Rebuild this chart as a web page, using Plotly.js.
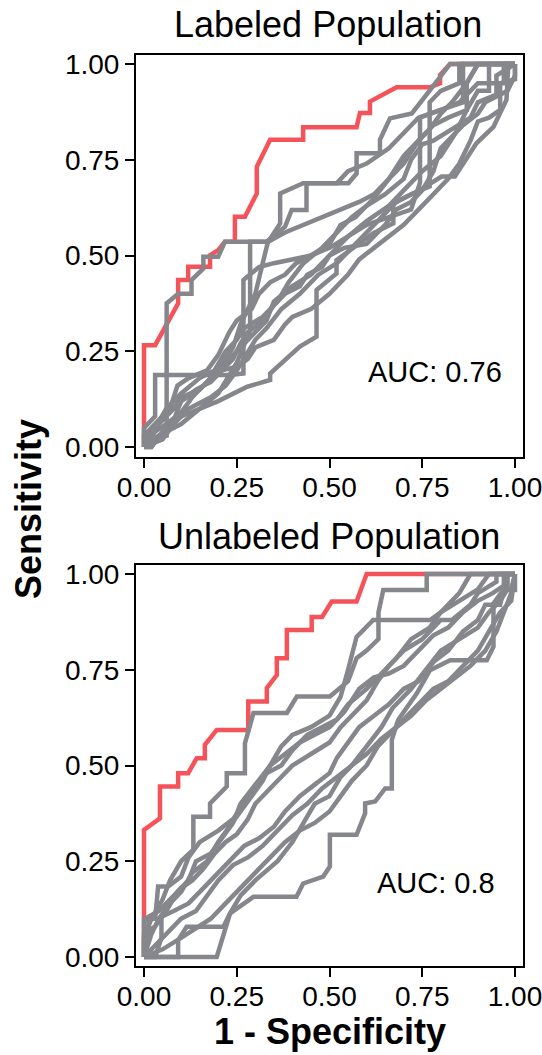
<!DOCTYPE html>
<html>
<head>
<meta charset="utf-8">
<script src="https://cdn.plot.ly/plotly-3.0.1.min.js"></script>
<style>html,body{margin:0;padding:0;background:#fff;}#chart{width:542px;height:1055px;}</style>
</head>
<body>
<div id="chart"></div>
<script>
// ---------- data ----------
const tickVals = [0, 0.25, 0.5, 0.75, 1];
const tickLabels = ['0.00', '0.25', '0.50', '0.75', '1.00'];
const panelTitles = ['Labeled Population', 'Unlabeled Population'];
const aucLabels = ['AUC: 0.76', 'AUC: 0.8'];

// Labeled population: highlighted ROC curve (1 - specificity, sensitivity)
const labeledRedFpr = [0, 0, 0.030, 0.092, 0.092, 0.119, 0.119, 0.178, 0.178, 0.200, 0.218, 0.245, 0.245, 0.272, 0.304, 0.304, 0.340, 0.429, 0.429, 0.573, 0.582, 0.609, 0.609, 0.663, 0.681, 0.771, 0.798, 0.798, 0.825, 1];
const labeledRedTpr = [0, 0.266, 0.266, 0.375, 0.436, 0.436, 0.471, 0.471, 0.501, 0.514, 0.536, 0.536, 0.601, 0.601, 0.662, 0.732, 0.802, 0.802, 0.835, 0.835, 0.872, 0.872, 0.902, 0.928, 0.939, 0.939, 0.950, 0.971, 1, 1];

// Labeled population: other ROC curves, [fpr, tpr] points
const labeledGray1 = [[0,0],[0.04,0.03],[0.061,0.03],[0.061,0.375],[0.092,0.40],[0.128,0.40],[0.128,0.436],[0.16,0.466],[0.16,0.497],[0.2,0.497],[0.218,0.536],[0.335,0.536],[0.367,0.584],[0.367,0.662],[0.429,0.689],[0.551,0.689],[0.573,0.714],[0.573,0.767],[0.636,0.767],[0.636,0.802],[0.663,0.858],[0.722,0.871],[0.771,0.932],[0.825,1],[1,1]];
const labeledGray2 = [[0,0],[0.02,0],[0.05,0.04],[0.1,0.08],[0.2,0.12],[0.277,0.157],[0.34,0.175],[0.34,0.192],[0.42,0.262],[0.465,0.288],[0.465,0.41],[0.519,0.453],[0.519,0.488],[0.618,0.558],[0.672,0.584],[0.672,0.636],[0.744,0.671],[0.802,0.706],[0.838,0.706],[0.874,0.758],[0.896,0.793],[0.942,0.836],[0.977,0.906],[0.982,1],[1,1]];
const labeledGray3 = [[0,0],[0,0.05],[0.03,0.08],[0.03,0.188],[0.232,0.188],[0.268,0.192],[0.268,0.436],[0.31,0.47],[0.35,0.48],[0.4,0.49],[0.45,0.5],[0.5,0.52],[0.55,0.55],[0.60,0.59],[0.66,0.63],[0.70,0.67],[0.75,0.72],[0.80,0.76],[0.84,0.82],[0.87,0.88],[0.90,0.93],[0.93,0.93],[0.93,1],[1,1]];
const labeledGray4 = [[0,0],[0.04,0.03],[0.1,0.06],[0.15,0.1],[0.2,0.14],[0.25,0.22],[0.286,0.305],[0.286,0.536],[0.335,0.536],[0.38,0.56],[0.43,0.58],[0.48,0.6],[0.53,0.62],[0.58,0.64],[0.62,0.66],[0.66,0.7],[0.70,0.74],[0.74,0.80],[0.78,0.84],[0.82,0.86],[0.87,0.88],[0.87,0.95],[0.9,1],[1,1]];
const labeledGray5 = [[0,0],[0.02,0.05],[0.05,0.08],[0.08,0.10],[0.1,0.13],[0.15,0.15],[0.2,0.2],[0.25,0.25],[0.3,0.3],[0.33,0.33],[0.35,0.38],[0.4,0.42],[0.45,0.45],[0.5,0.5],[0.55,0.55],[0.6,0.58],[0.66,0.6],[0.72,0.62],[0.744,0.69],[0.744,0.86],[0.80,0.88],[0.85,0.9],[0.9,0.95],[0.97,0.95],[0.97,1],[1,1]];
const labeledGray6 = [[0,0],[0.05,0.02],[0.08,0.06],[0.12,0.1],[0.18,0.13],[0.22,0.16],[0.25,0.2],[0.3,0.28],[0.33,0.31],[0.37,0.36],[0.42,0.4],[0.47,0.45],[0.52,0.48],[0.56,0.52],[0.6,0.56],[0.64,0.6],[0.68,0.64],[0.72,0.66],[0.77,0.68],[0.77,0.9],[0.8,0.93],[0.85,0.95],[0.85,1],[1,1]];
const labeledGray7 = [[0,0],[0,0.03],[0.03,0.05],[0.06,0.1],[0.1,0.14],[0.15,0.18],[0.19,0.2],[0.22,0.25],[0.25,0.28],[0.27,0.31],[0.32,0.34],[0.36,0.38],[0.39,0.43],[0.43,0.48],[0.48,0.52],[0.52,0.56],[0.56,0.6],[0.6,0.63],[0.65,0.66],[0.7,0.7],[0.72,0.75],[0.75,0.79],[0.78,0.8],[0.83,0.83],[0.88,0.86],[0.9,0.9],[0.95,0.92],[0.95,0.97],[1,1]];
const labeledGray8 = [[0,0],[0.02,0],[0.05,0.04],[0.08,0.07],[0.1,0.12],[0.14,0.15],[0.18,0.17],[0.21,0.2],[0.25,0.21],[0.28,0.23],[0.3,0.26],[0.35,0.28],[0.38,0.32],[0.4,0.34],[0.45,0.36],[0.5,0.4],[0.55,0.45],[0.58,0.49],[0.62,0.52],[0.66,0.55],[0.7,0.58],[0.74,0.62],[0.78,0.66],[0.82,0.7],[0.85,0.74],[0.88,0.8],[0.9,0.85],[0.93,0.86],[0.96,0.88],[0.96,0.95],[1,0.96],[1,1]];
const labeledGray9 = [[0,0],[0.03,0.04],[0.06,0.06],[0.1,0.09],[0.13,0.13],[0.16,0.16],[0.2,0.19],[0.24,0.23],[0.26,0.27],[0.28,0.3],[0.32,0.33],[0.35,0.37],[0.38,0.40],[0.42,0.42],[0.44,0.45],[0.48,0.47],[0.5,0.5],[0.54,0.52],[0.6,0.53],[0.65,0.58],[0.68,0.62],[0.72,0.64],[0.75,0.67],[0.78,0.72],[0.8,0.78],[0.83,0.81],[0.86,0.84],[0.9,0.87],[0.92,0.9],[0.98,0.93],[1,0.97],[1,1]];
const labeledGray10 = [[0,0],[0.01,0.04],[0.04,0.07],[0.07,0.1],[0.09,0.16],[0.12,0.18],[0.17,0.2],[0.2,0.24],[0.23,0.3],[0.25,0.33],[0.29,0.36],[0.31,0.4],[0.34,0.43],[0.38,0.45],[0.41,0.48],[0.45,0.5],[0.5,0.53],[0.53,0.58],[0.57,0.6],[0.62,0.65],[0.66,0.7],[0.7,0.76],[0.73,0.79],[0.77,0.83],[0.8,0.87],[0.83,0.9],[0.87,0.95],[0.9,1],[1,1]];
const labeledGray11 = [[0,0],[0.03,0.05],[0.06,0.08],[0.1,0.12],[0.15,0.15],[0.2,0.2],[0.24,0.26],[0.26,0.32],[0.3,0.4],[0.32,0.48],[0.335,0.54],[0.38,0.575],[0.398,0.619],[0.438,0.619],[0.438,0.689],[0.52,0.689],[0.55,0.72],[0.6,0.74],[0.66,0.78],[0.7,0.82],[0.74,0.86],[0.8,0.88],[0.86,0.9],[0.86,1],[1,1]];

// Unlabeled population: highlighted ROC curve
const unlabeledRedFpr = [0, 0, 0.043, 0.043, 0.092, 0.092, 0.119, 0.142, 0.164, 0.164, 0.196, 0.281, 0.281, 0.331, 0.331, 0.358, 0.358, 0.385, 0.385, 0.452, 0.452, 0.480, 0.506, 0.573, 0.600, 1];
const unlabeledRedTpr = [0, 0.332, 0.362, 0.445, 0.445, 0.480, 0.480, 0.519, 0.519, 0.554, 0.593, 0.593, 0.667, 0.667, 0.702, 0.736, 0.780, 0.780, 0.854, 0.854, 0.888, 0.888, 0.928, 0.928, 1, 1];

// Unlabeled population: other ROC curves
const unlabeledGray1 = [[0,0],[0,0.05],[0.02,0.1],[0.05,0.15],[0.07,0.2],[0.1,0.25],[0.133,0.28],[0.133,0.366],[0.178,0.366],[0.178,0.401],[0.223,0.445],[0.223,0.48],[0.272,0.48],[0.272,0.558],[0.295,0.637],[0.385,0.637],[0.412,0.68],[0.501,0.68],[0.55,0.72],[0.573,0.78],[0.60,0.80],[0.632,0.83],[0.632,0.90],[0.645,0.958],[0.762,0.958],[0.762,1],[1,1]];
const unlabeledGray2 = [[0,0],[0.196,0],[0.232,0.114],[0.295,0.157],[0.411,0.157],[0.429,0.192],[0.483,0.21],[0.501,0.236],[0.501,0.319],[0.573,0.319],[0.596,0.375],[0.596,0.401],[0.623,0.406],[0.65,0.44],[0.668,0.44],[0.668,0.567],[0.685,0.619],[0.735,0.688],[0.771,0.749],[0.825,0.775],[0.924,0.775],[0.942,0.81],[0.942,0.923],[0.968,0.958],[1,0.958],[1,1]];
const unlabeledGray3 = [[0,0],[0.092,0],[0.092,0.044],[0.115,0.079],[0.214,0.079],[0.232,0.114],[0.26,0.16],[0.3,0.2],[0.36,0.25],[0.4,0.3],[0.43,0.35],[0.46,0.4],[0.5,0.42],[0.53,0.47],[0.56,0.5],[0.6,0.55],[0.64,0.6],[0.67,0.65],[0.72,0.7],[0.76,0.75],[0.8,0.8],[0.85,0.83],[0.9,0.86],[0.93,0.9],[0.96,0.93],[0.98,0.96],[0.98,1],[1,1]];
const unlabeledGray4 = [[0,0],[0,0.1],[0.03,0.1],[0.038,0.184],[0.065,0.184],[0.1,0.21],[0.12,0.26],[0.15,0.3],[0.2,0.33],[0.24,0.36],[0.27,0.4],[0.3,0.44],[0.33,0.48],[0.37,0.5],[0.4,0.54],[0.44,0.58],[0.48,0.6],[0.52,0.62],[0.55,0.66],[0.6,0.7],[0.64,0.74],[0.68,0.78],[0.72,0.83],[0.77,0.86],[0.8,0.9],[0.85,0.93],[0.9,0.96],[0.93,1],[1,1]];
const unlabeledGray5 = [[0,0],[0.012,0.05],[0.012,0.105],[0.04,0.12],[0.07,0.15],[0.1,0.18],[0.13,0.2],[0.16,0.23],[0.19,0.27],[0.22,0.3],[0.25,0.32],[0.28,0.36],[0.3,0.4],[0.33,0.43],[0.37,0.47],[0.4,0.5],[0.45,0.53],[0.5,0.56],[0.53,0.6],[0.57,0.64],[0.6,0.67],[0.63,0.72],[0.66,0.76],[0.7,0.8],[0.75,0.83],[0.8,0.88],[0.83,0.88],[0.88,0.92],[0.9,0.95],[0.95,0.98],[0.95,1],[1,1]];
const unlabeledGray6 = [[0,0],[0.03,0],[0.047,0.05],[0.047,0.105],[0.08,0.12],[0.12,0.14],[0.16,0.18],[0.2,0.22],[0.24,0.26],[0.27,0.29],[0.31,0.31],[0.35,0.34],[0.38,0.38],[0.42,0.42],[0.46,0.45],[0.5,0.48],[0.52,0.52],[0.55,0.56],[0.58,0.6],[0.62,0.63],[0.66,0.66],[0.7,0.7],[0.74,0.72],[0.78,0.77],[0.82,0.8],[0.86,0.85],[0.9,0.88],[0.92,0.92],[0.96,0.92],[0.97,0.96],[0.99,0.96],[1,1]];
const unlabeledGray7 = [[0,0],[0.05,0.02],[0.1,0.05],[0.15,0.08],[0.18,0.1],[0.22,0.14],[0.26,0.18],[0.3,0.22],[0.34,0.26],[0.38,0.3],[0.42,0.33],[0.46,0.35],[0.5,0.38],[0.53,0.42],[0.56,0.46],[0.6,0.5],[0.63,0.55],[0.66,0.58],[0.7,0.62],[0.74,0.66],[0.78,0.7],[0.82,0.72],[0.86,0.76],[0.9,0.8],[0.93,0.85],[0.96,0.9],[0.99,0.93],[1,1]];
const unlabeledGray8 = [[0,0],[0.02,0.06],[0.04,0.1],[0.07,0.14],[0.1,0.17],[0.13,0.22],[0.17,0.25],[0.2,0.3],[0.23,0.34],[0.26,0.38],[0.29,0.42],[0.32,0.46],[0.34,0.5],[0.37,0.55],[0.4,0.58],[0.45,0.6],[0.5,0.63],[0.53,0.68],[0.55,0.75],[0.573,0.836],[0.618,0.88],[0.771,0.88],[0.8,0.9],[0.85,0.95],[0.88,1],[1,1]];
const unlabeledGray9 = [[0,0],[0,0.06],[0.03,0.08],[0.06,0.12],[0.09,0.17],[0.12,0.2],[0.14,0.25],[0.18,0.27],[0.21,0.31],[0.24,0.35],[0.26,0.4],[0.3,0.45],[0.34,0.5],[0.38,0.53],[0.42,0.56],[0.46,0.58],[0.5,0.6],[0.54,0.64],[0.58,0.7],[0.62,0.73],[0.66,0.74],[0.7,0.76],[0.74,0.8],[0.78,0.84],[0.82,0.86],[0.86,0.9],[0.9,0.93],[0.94,0.95],[0.97,0.97],[0.97,1],[1,1]];
const unlabeledGray10 = [[0,0],[0.03,0.03],[0.06,0.06],[0.1,0.1],[0.14,0.12],[0.17,0.16],[0.2,0.2],[0.24,0.24],[0.28,0.26],[0.32,0.29],[0.36,0.33],[0.4,0.37],[0.44,0.4],[0.48,0.44],[0.52,0.47],[0.56,0.5],[0.6,0.53],[0.64,0.57],[0.68,0.6],[0.72,0.63],[0.76,0.67],[0.8,0.7],[0.84,0.73],[0.88,0.76],[0.92,0.8],[0.95,0.85],[0.97,0.9],[0.99,0.95],[1,1]];

const labeledGray = [labeledGray1, labeledGray2, labeledGray3, labeledGray4, labeledGray5, labeledGray6, labeledGray7, labeledGray8, labeledGray9, labeledGray10, labeledGray11];
const unlabeledGray = [unlabeledGray1, unlabeledGray2, unlabeledGray3, unlabeledGray4, unlabeledGray5, unlabeledGray6, unlabeledGray7, unlabeledGray8, unlabeledGray9, unlabeledGray10];

// ---------- styling ----------
const RED = '#F5535A';
const GRAY = '#86878D';
const LW = 4.5;
const FONT = 'Liberation Sans, Arial, Helvetica, sans-serif';
const W = 542, H = 1055;

const traces = [];
function addPanel(redX, redY, grays, xa, ya) {
  traces.push({x: redX, y: redY, xaxis: xa, yaxis: ya, type: 'scatter', mode: 'lines',
    line: {color: RED, width: LW}, hoverinfo: 'skip'});
  grays.forEach(c => traces.push({x: c.map(p => p[0]), y: c.map(p => p[1]), xaxis: xa, yaxis: ya,
    type: 'scatter', mode: 'lines', line: {color: GRAY, width: LW}, hoverinfo: 'skip'}));
}
addPanel(labeledRedFpr, labeledRedTpr, labeledGray, 'x', 'y');
addPanel(unlabeledRedFpr, unlabeledRedTpr, unlabeledGray, 'x2', 'y2');

function axisBase(extra) {
  return Object.assign({
    tickvals: tickVals, ticktext: tickLabels, ticks: 'outside', ticklen: 9, tickwidth: 2,
    tickcolor: '#000', showline: true, linecolor: '#000', linewidth: 2, mirror: true,
    showgrid: false, zeroline: false, fixedrange: true, ticklabeloverflow: 'allow',
    tickfont: {family: FONT, size: 28, color: '#000'}
  }, extra);
}
const xDom = [136 / W, 523 / W];
const layout = {
  width: W, height: H, margin: {l: 0, r: 0, t: 0, b: 0},
  paper_bgcolor: '#fff', plot_bgcolor: '#fff', showlegend: false,
  xaxis: axisBase({domain: xDom, range: [-0.0216, 1.0216], anchor: 'y', ticklabelstandoff: -5}),
  yaxis: axisBase({domain: [1 - 457 / H, 1 - 55 / H], range: [-0.026, 1.0235], anchor: 'x'}),
  xaxis2: axisBase({domain: xDom, range: [-0.0216, 1.0216], anchor: 'y2', ticklabelstandoff: -5}),
  yaxis2: axisBase({domain: [1 - 966 / H, 1 - 565 / H], range: [-0.0235, 1.0235], anchor: 'x2'}),
  annotations: [
    {text: panelTitles[0], xref: 'paper', yref: 'paper', x: 328 / W, y: 1 - 24 / H, xanchor: 'center', yanchor: 'middle', showarrow: false, font: {family: FONT, size: 36, color: '#000'}},
    {text: panelTitles[1], xref: 'paper', yref: 'paper', x: 329 / W, y: 1 - 536 / H, xanchor: 'center', yanchor: 'middle', showarrow: false, font: {family: FONT, size: 36, color: '#000'}},
    {text: aucLabels[0], xref: 'x', yref: 'y', x: 0.784, y: 0.196, xanchor: 'center', yanchor: 'middle', showarrow: false, font: {family: FONT, size: 29, color: '#000'}},
    {text: aucLabels[1], xref: 'x2', yref: 'y2', x: 0.786, y: 0.193, xanchor: 'center', yanchor: 'middle', showarrow: false, font: {family: FONT, size: 29, color: '#000'}},
    {text: '<b>Sensitivity</b>', xref: 'paper', yref: 'paper', x: 28 / W, y: 1 - 509 / H, xanchor: 'center', yanchor: 'middle', textangle: -90, showarrow: false, font: {family: FONT, size: 36, color: '#000'}},
    {text: '<b>1 - Specificity</b>', xref: 'paper', yref: 'paper', x: 329.5 / W, y: 1 - 1031 / H, xanchor: 'center', yanchor: 'middle', showarrow: false, font: {family: FONT, size: 36, color: '#000'}}
  ]
};
Plotly.newPlot('chart', traces, layout, {staticPlot: true, displayModeBar: false});
</script>
</body>
</html>
